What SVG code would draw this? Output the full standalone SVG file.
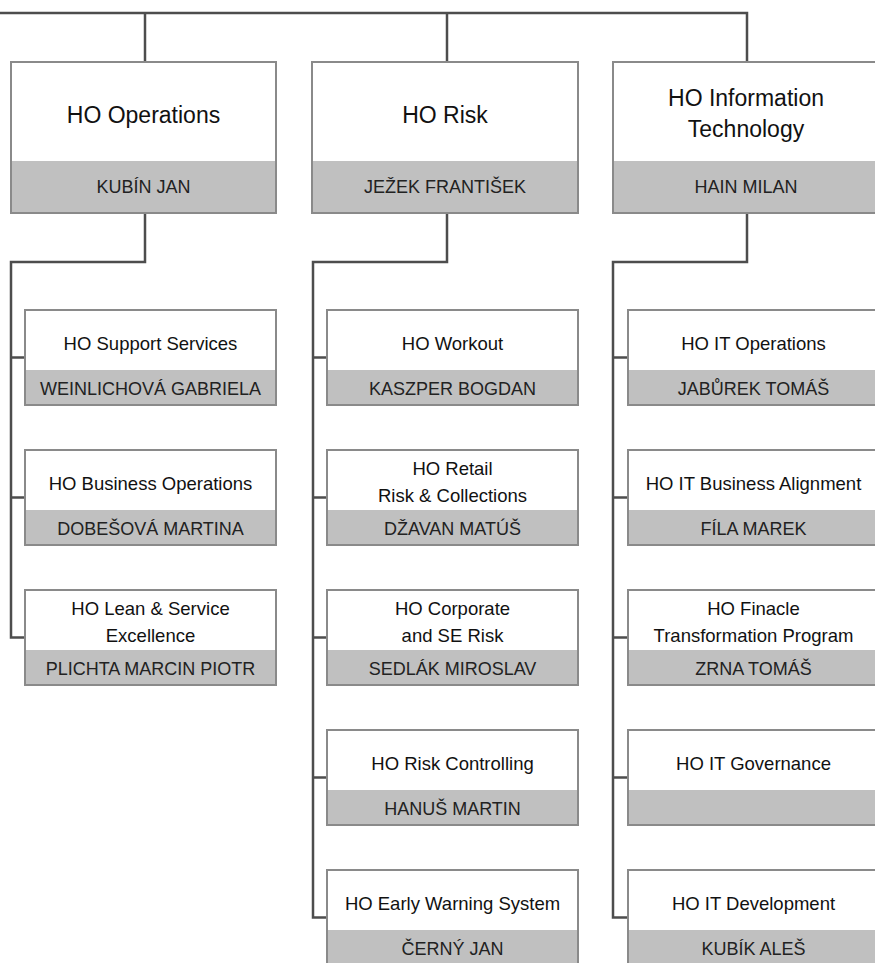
<svg xmlns="http://www.w3.org/2000/svg" width="875" height="963" viewBox="0 0 875 963">
<style>
.bg{fill:#ffffff}
.band{fill:#c0c0c0}
.frame{fill:none;stroke:#8a8a8a;stroke-width:2}
.conn{fill:none;stroke:#4d4d4d;stroke-width:2.5}
text{font-family:"Liberation Sans",Arial,sans-serif;text-anchor:middle}
.tt{font-size:23px;fill:#111}
.ct{font-size:18.5px;fill:#111}
.nm{font-size:18px;fill:#222}
</style>
<rect x="0" y="0" width="875" height="963" fill="#ffffff"/>
<g id="connectors">
<path class="conn" d="M0,13 H747 V62"/>
<path class="conn" d="M145,13 V62"/>
<path class="conn" d="M447,13 V62"/>
<path class="conn" d="M145,213 V262 H11 V637.5 H25"/>
<path class="conn" d="M11,357.5 H25 M11,497.5 H25"/>
<path class="conn" d="M447,213 V262 H313 V917.5 H327"/>
<path class="conn" d="M313,357.5 H327 M313,497.5 H327 M313,637.5 H327 M313,777.5 H327"/>
<path class="conn" d="M747,213 V262 H613 V917.5 H628"/>
<path class="conn" d="M613,357.5 H628 M613,497.5 H628 M613,637.5 H628 M613,777.5 H628"/>
</g>
<g id="ho-operations">
<rect class="bg" x="11" y="62" width="265" height="151"/>
<rect class="band" x="11" y="161" width="265" height="52"/>
<rect class="frame" x="11" y="62" width="265" height="151"/>
<text class="tt" x="143.5" y="123">HO Operations</text>
<text class="nm" x="143.5" y="193">KUBÍN JAN</text>
</g>
<g id="ho-risk">
<rect class="bg" x="312" y="62" width="266" height="151"/>
<rect class="band" x="312" y="161" width="266" height="52"/>
<rect class="frame" x="312" y="62" width="266" height="151"/>
<text class="tt" x="445" y="123">HO Risk</text>
<text class="nm" x="445" y="193">JEŽEK FRANTIŠEK</text>
</g>
<g id="ho-it">
<rect class="bg" x="613" y="62" width="266" height="151"/>
<rect class="band" x="613" y="161" width="266" height="52"/>
<rect class="frame" x="613" y="62" width="266" height="151"/>
<text class="tt" x="746" y="106">HO Information</text>
<text class="tt" x="746" y="137">Technology</text>
<text class="nm" x="746" y="193">HAIN MILAN</text>
</g>
<g id="ho-support-services">
<rect class="bg" x="25" y="310" width="251" height="95"/>
<rect class="band" x="25" y="370" width="251" height="35"/>
<rect class="frame" x="25" y="310" width="251" height="95"/>
<text class="ct" x="150.5" y="350">HO Support Services</text>
<text class="nm" x="150.5" y="395">WEINLICHOVÁ GABRIELA</text>
</g>
<g id="ho-business-operations">
<rect class="bg" x="25" y="450" width="251" height="95"/>
<rect class="band" x="25" y="510" width="251" height="35"/>
<rect class="frame" x="25" y="450" width="251" height="95"/>
<text class="ct" x="150.5" y="490">HO Business Operations</text>
<text class="nm" x="150.5" y="535">DOBEŠOVÁ MARTINA</text>
</g>
<g id="ho-lean">
<rect class="bg" x="25" y="590" width="251" height="95"/>
<rect class="band" x="25" y="650" width="251" height="35"/>
<rect class="frame" x="25" y="590" width="251" height="95"/>
<text class="ct" x="150.5" y="615">HO Lean &amp; Service</text>
<text class="ct" x="150.5" y="642">Excellence</text>
<text class="nm" x="150.5" y="675">PLICHTA MARCIN PIOTR</text>
</g>
<g id="ho-workout">
<rect class="bg" x="327" y="310" width="251" height="95"/>
<rect class="band" x="327" y="370" width="251" height="35"/>
<rect class="frame" x="327" y="310" width="251" height="95"/>
<text class="ct" x="452.5" y="350">HO Workout</text>
<text class="nm" x="452.5" y="395">KASZPER BOGDAN</text>
</g>
<g id="ho-retail-risk">
<rect class="bg" x="327" y="450" width="251" height="95"/>
<rect class="band" x="327" y="510" width="251" height="35"/>
<rect class="frame" x="327" y="450" width="251" height="95"/>
<text class="ct" x="452.5" y="475">HO Retail</text>
<text class="ct" x="452.5" y="502">Risk &amp; Collections</text>
<text class="nm" x="452.5" y="535">DŽAVAN MATÚŠ</text>
</g>
<g id="ho-corporate-risk">
<rect class="bg" x="327" y="590" width="251" height="95"/>
<rect class="band" x="327" y="650" width="251" height="35"/>
<rect class="frame" x="327" y="590" width="251" height="95"/>
<text class="ct" x="452.5" y="615">HO Corporate</text>
<text class="ct" x="452.5" y="642">and SE Risk</text>
<text class="nm" x="452.5" y="675">SEDLÁK MIROSLAV</text>
</g>
<g id="ho-risk-controlling">
<rect class="bg" x="327" y="730" width="251" height="95"/>
<rect class="band" x="327" y="790" width="251" height="35"/>
<rect class="frame" x="327" y="730" width="251" height="95"/>
<text class="ct" x="452.5" y="770">HO Risk Controlling</text>
<text class="nm" x="452.5" y="815">HANUŠ MARTIN</text>
</g>
<g id="ho-early-warning">
<rect class="bg" x="327" y="870" width="251" height="95"/>
<rect class="band" x="327" y="930" width="251" height="35"/>
<rect class="frame" x="327" y="870" width="251" height="95"/>
<text class="ct" x="452.5" y="910">HO Early Warning System</text>
<text class="nm" x="452.5" y="955">ČERNÝ JAN</text>
</g>
<g id="ho-it-operations">
<rect class="bg" x="628" y="310" width="251" height="95"/>
<rect class="band" x="628" y="370" width="251" height="35"/>
<rect class="frame" x="628" y="310" width="251" height="95"/>
<text class="ct" x="753.5" y="350">HO IT Operations</text>
<text class="nm" x="753.5" y="395">JABŮREK TOMÁŠ</text>
</g>
<g id="ho-it-business-alignment">
<rect class="bg" x="628" y="450" width="251" height="95"/>
<rect class="band" x="628" y="510" width="251" height="35"/>
<rect class="frame" x="628" y="450" width="251" height="95"/>
<text class="ct" x="753.5" y="490">HO IT Business Alignment</text>
<text class="nm" x="753.5" y="535">FÍLA MAREK</text>
</g>
<g id="ho-finacle">
<rect class="bg" x="628" y="590" width="251" height="95"/>
<rect class="band" x="628" y="650" width="251" height="35"/>
<rect class="frame" x="628" y="590" width="251" height="95"/>
<text class="ct" x="753.5" y="615">HO Finacle</text>
<text class="ct" x="753.5" y="642">Transformation Program</text>
<text class="nm" x="753.5" y="675">ZRNA TOMÁŠ</text>
</g>
<g id="ho-it-governance">
<rect class="bg" x="628" y="730" width="251" height="95"/>
<rect class="band" x="628" y="790" width="251" height="35"/>
<rect class="frame" x="628" y="730" width="251" height="95"/>
<text class="ct" x="753.5" y="770">HO IT Governance</text>
</g>
<g id="ho-it-development">
<rect class="bg" x="628" y="870" width="251" height="95"/>
<rect class="band" x="628" y="930" width="251" height="35"/>
<rect class="frame" x="628" y="870" width="251" height="95"/>
<text class="ct" x="753.5" y="910">HO IT Development</text>
<text class="nm" x="753.5" y="955">KUBÍK ALEŠ</text>
</g>
</svg>
